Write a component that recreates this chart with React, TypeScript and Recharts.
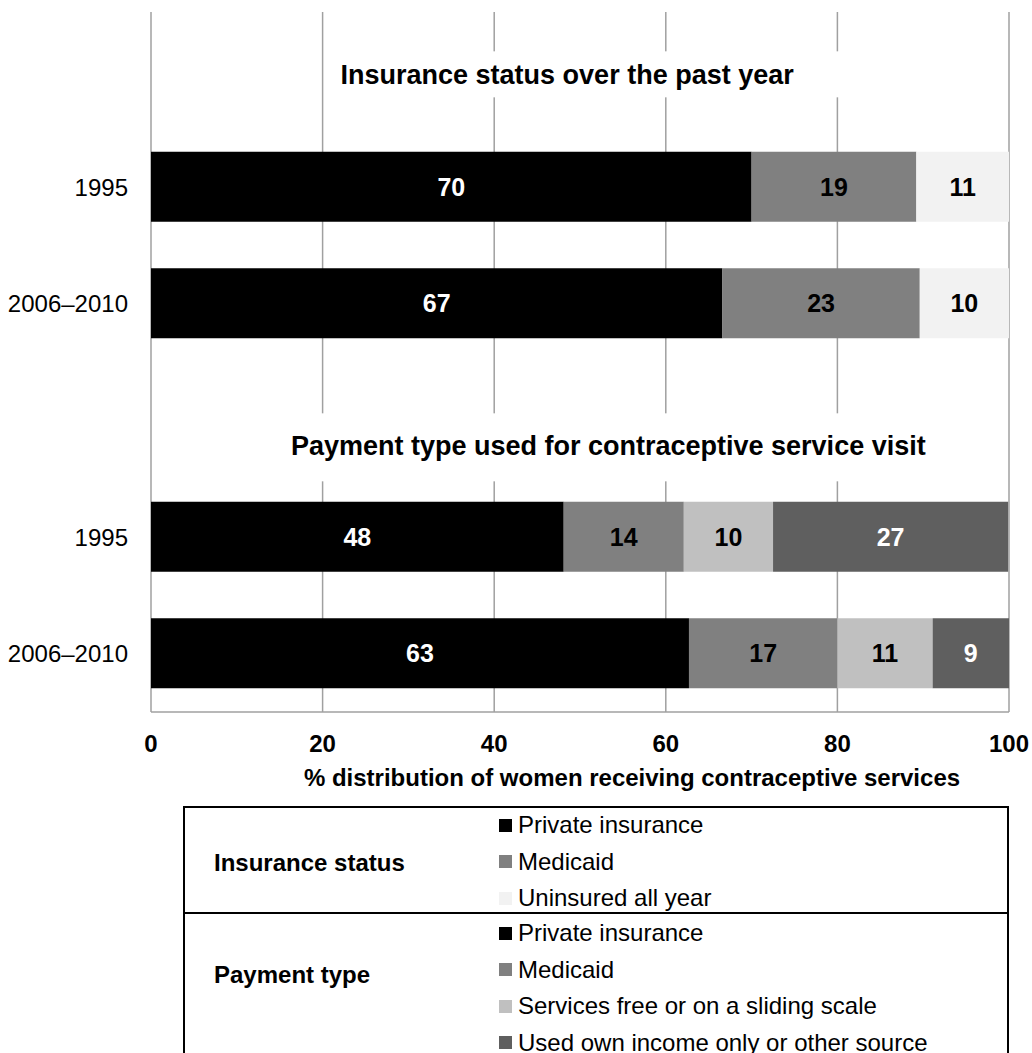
import React from 'react';
import { BarChart, Bar, XAxis, YAxis, CartesianGrid, ReferenceLine, LabelList } from 'recharts';

const rowKeys = ['insTitle', 'ins1995', 'ins2006', 'payTitle', 'pay1995', 'pay2006'];
const rowLabels = ['', '1995', '2006–2010', '', '1995', '2006–2010'];

const privateInsurance = [null, 70.0, 66.6, null, 48.1, 62.7];
const medicaid = [null, 19.2, 23.0, null, 14.0, 17.3];
const uninsured = [null, 10.8, 10.4, null, null, null];
const slidingScale = [null, null, null, null, 10.4, 11.1];
const ownIncome = [null, null, null, null, 27.4, 8.9];

const xTicks = [0, 20, 40, 60, 80, 100];
const sectionTitles = ['Insurance status over the past year', 'Payment type used for contraceptive service visit'];
const axisTitle = '% distribution of women receiving contraceptive services';

const insuranceLegend = ['Private insurance', 'Medicaid', 'Uninsured all year'];
const paymentLegend = ['Private insurance', 'Medicaid', 'Services free or on a sliding scale', 'Used own income only or other source'];

const FONT = '"Liberation Sans", Arial, sans-serif';

const series = [
  { key: 'privateIns', values: privateInsurance, color: '#000000', text: '#ffffff' },
  { key: 'medicaid', values: medicaid, color: '#808080', text: '#000000' },
  { key: 'uninsured', values: uninsured, color: '#f2f2f2', text: '#000000' },
  { key: 'sliding', values: slidingScale, color: '#c0c0c0', text: '#000000' },
  { key: 'own', values: ownIncome, color: '#5f5f5f', text: '#ffffff' },
];

const data = rowKeys.map((row, i) => {
  const d: any = { row };
  series.forEach((s) => (d[s.key] = s.values[i]));
  return d;
});

const legendColors = {
  'Private insurance': '#000000',
  Medicaid: '#808080',
  'Uninsured all year': '#f2f2f2',
  'Services free or on a sliding scale': '#c0c0c0',
  'Used own income only or other source': '#5f5f5f',
};

// where the section titles sit relative to the plot
const titleSpots = [
  { at: 48.5, dy: 5, boxL: 237, boxR: 283, boxTop: -24, boxH: 46 },
  { at: 53.3, dy: 26, boxL: 330, boxR: 330, boxTop: -33, boxH: 68 },
];

const titleLabel = (idx: number) => (props: any) => {
  const vb = props.viewBox || {};
  const spot = titleSpots[idx];
  const cx = vb.x + (vb.width * spot.at) / 100;
  const cy = vb.y + spot.dy;
  return (
    <g>
      <rect x={cx - spot.boxL} y={cy + spot.boxTop} width={spot.boxL + spot.boxR} height={spot.boxH} fill="#ffffff" />
      <text x={cx} y={cy} textAnchor="middle" dominantBaseline="central" fontFamily={FONT} fontWeight="bold" fontSize={27} fill="#000">
        {sectionTitles[idx]}
      </text>
    </g>
  );
};

const xAxisLabel = (props: any) => {
  const vb = props.viewBox || {};
  return (
    <text x={vb.x + vb.width / 2 + 52} y={vb.y + 65} textAnchor="middle" dominantBaseline="central" fontFamily={FONT} fontWeight="bold" fontSize={24} fill="#000">
      {axisTitle}
    </text>
  );
};

const LegendSwatchRow = ({ name }: { name: string }) => (
  <div style={{ height: 36.5, display: 'flex', alignItems: 'center' }}>
    <span style={{ display: 'inline-block', width: 13, height: 13, background: (legendColors as any)[name], marginRight: 6 }} />
    <span>{name}</span>
  </div>
);

export default function App() {
  return (
    <div style={{ position: 'absolute', left: 0, top: 0, width: 1032, height: 1053, overflow: 'hidden', background: '#fff', fontFamily: FONT }}>
      <BarChart width={1032} height={800} data={data} layout="vertical" margin={{ top: 12, right: 23, bottom: 8, left: 0 }} barSize={70}>
        <CartesianGrid horizontal={false} stroke="#a0a0a0" strokeWidth={1.5} />
        <XAxis
          type="number"
          domain={[0, 100]}
          ticks={xTicks}
          height={80}
          axisLine={{ stroke: '#a0a0a0', strokeWidth: 1.5 }}
          tickLine={false}
          tickMargin={17}
          tick={{ fontSize: 24, fontWeight: 'bold', fill: '#000', fontFamily: FONT }}
          label={xAxisLabel}
        />
        <YAxis
          type="category"
          dataKey="row"
          width={151}
          axisLine={false}
          tickLine={false}
          tickMargin={17}
          tickFormatter={(v: string) => rowLabels[rowKeys.indexOf(v)]}
          tick={{ fontSize: 24, fill: '#000', fontFamily: FONT }}
        />
        {series.map((s) => (
          <Bar key={s.key} dataKey={s.key} stackId="a" fill={s.color} isAnimationActive={false}>
            <LabelList
              dataKey={s.key}
              position="center"
              fill={s.text}
              fontSize={25}
              fontWeight="bold"
              fontFamily={FONT}
              formatter={(v: any) => (v ? Math.round(v) : '')}
            />
          </Bar>
        ))}
        <ReferenceLine y={rowKeys[0]} stroke="none" label={titleLabel(0)} />
        <ReferenceLine y={rowKeys[3]} stroke="none" label={titleLabel(1)} />
      </BarChart>

      <div style={{ position: 'absolute', left: 183, top: 806, width: 822, border: '2px solid #000', fontSize: 24, color: '#000' }}>
        <div style={{ position: 'relative', height: 104, borderBottom: '2px solid #000' }}>
          <div style={{ position: 'absolute', left: 29, top: 55 - 14, fontWeight: 'bold' }}>Insurance status</div>
          <div style={{ position: 'absolute', left: 314, top: -1 }}>
            {insuranceLegend.map((n) => (
              <LegendSwatchRow key={n} name={n} />
            ))}
          </div>
        </div>
        <div style={{ position: 'relative', height: 150 }}>
          <div style={{ position: 'absolute', left: 29, top: 61 - 14, fontWeight: 'bold' }}>Payment type</div>
          <div style={{ position: 'absolute', left: 314, top: 1 }}>
            {paymentLegend.map((n) => (
              <LegendSwatchRow key={n} name={n} />
            ))}
          </div>
        </div>
      </div>
    </div>
  );
}
